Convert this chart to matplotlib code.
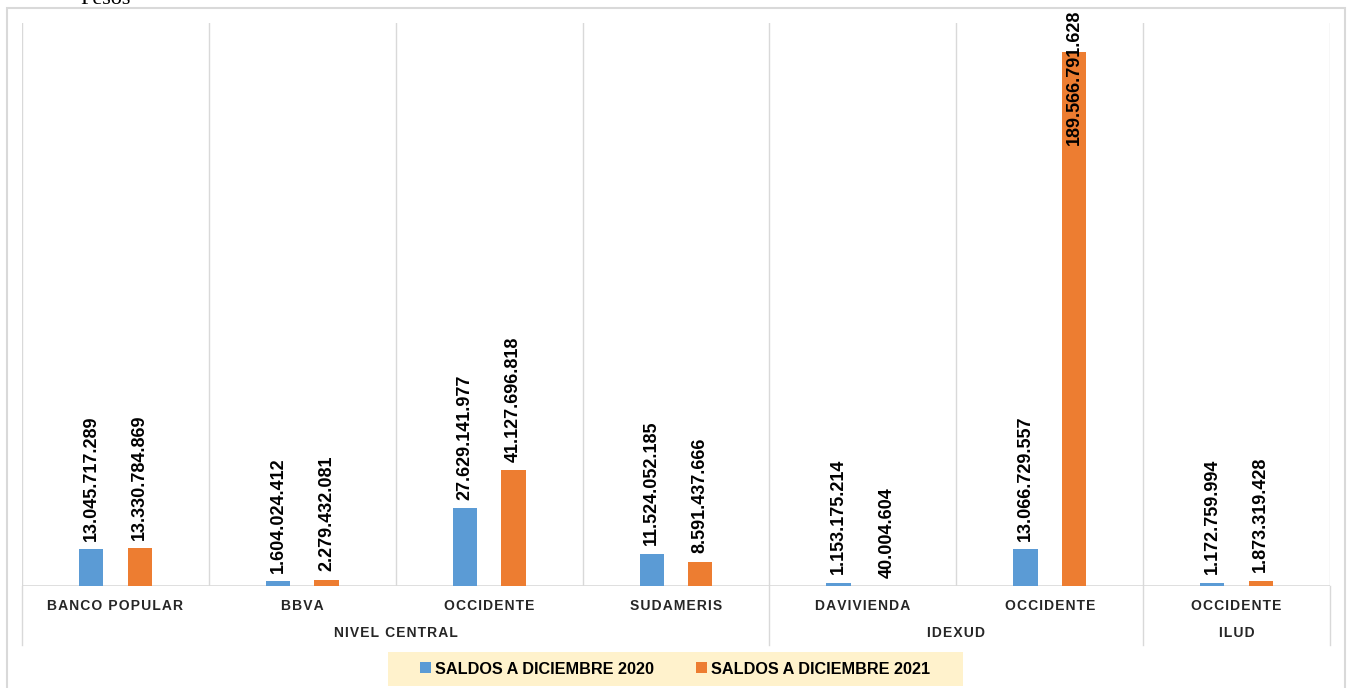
import matplotlib
matplotlib.use("Agg")
import matplotlib.pyplot as plt
import matplotlib.transforms as mtransforms
from matplotlib.patches import Rectangle, Patch

# ---- data ----
categories = ["BANCO POPULAR", "BBVA", "OCCIDENTE", "SUDAMERIS", "DAVIVIENDA", "OCCIDENTE", "OCCIDENTE"]
groups = ["NIVEL CENTRAL", "IDEXUD", "ILUD"]
group_sizes = [4, 2, 1]
saldos_2020 = [13045717289, 1604024412, 27629141977, 11524052185, 1153175214, 13066729557, 1172759994]
saldos_2021 = [13330784869, 2279432081, 41127696818, 8591437666, 40004604, 189566791628, 1873319428]
series_names = ["SALDOS A DICIEMBRE 2020", "SALDOS A DICIEMBRE 2021"]

BLUE = "#5b9bd5"
ORANGE = "#ed7d31"
GRID = "#d9d9d9"
FONT = "Liberation Sans"
FAM = [FONT, "DejaVu Sans"]

def spaced(s):
    return "\u200a".join(s)

W, H, DPI = 1350, 688, 100
fig = plt.figure(figsize=(W / DPI, H / DPI), dpi=DPI)
ax = fig.add_axes([22 / W, 1 - 586 / H, (1330 - 22) / W, (586 - 23) / H])

n = len(categories)
xs = list(range(n))
bw = 0.13
ax.bar([x - bw for x in xs], saldos_2020, width=bw, color=BLUE, zorder=3)
ax.bar([x + bw for x in xs], saldos_2021, width=bw, color=ORANGE, zorder=3)

ax.set_xlim(-0.5, n - 0.5)
ax.set_ylim(0, 200e9)
for s in ax.spines.values():
    s.set_visible(False)
ax.set_xticks([])
ax.set_yticks([])

# gridlines between categories
for i in range(n + 1):
    ax.axvline(i - 0.5, color=GRID, lw=1, zorder=1)
ax.axhline(0, color=GRID, lw=1.2, zorder=2)

trans = mtransforms.blended_transform_factory(ax.transData, ax.transAxes)

# group separators extending below axis
bounds = [-0.5]
for g in group_sizes:
    bounds.append(bounds[-1] + g)
for b in bounds:
    ax.plot([b, b], [-0.105, 0], transform=trans, color=GRID, lw=1, clip_on=False)

# category labels
for x, c in zip(xs, categories):
    ax.text(x, -0.036, spaced(c), transform=trans, ha="center", va="center",
            fontsize=10, fontweight="bold", family=FAM, color="#262626")
# group labels
for i, g in enumerate(groups):
    center = (bounds[i] + bounds[i + 1]) / 2
    ax.text(center, -0.084, spaced(g), transform=trans, ha="center", va="center",
            fontsize=10, fontweight="bold", family=FAM, color="#262626")

def fmt(v):
    return f"{v:,}".replace(",", ".")

texts = []
for x, v in zip(xs, saldos_2020):
    texts.append(ax.annotate(fmt(v), xy=(x - bw, v), xytext=(0, 6), textcoords="offset points",
                             rotation=90, ha="center", va="bottom", fontsize=13,
                             fontweight="bold", family=FONT, annotation_clip=False, zorder=5))
for x, v in zip(xs, saldos_2021):
    texts.append(ax.annotate(fmt(v), xy=(x + bw, v), xytext=(0, 6), textcoords="offset points",
                             rotation=90, ha="center", va="bottom", fontsize=13,
                             fontweight="bold", family=FONT, annotation_clip=False, zorder=5))

# legend background
fig.patches.append(Rectangle((388 / W, 1 - 686 / H), (963 - 388) / W, (686 - 652) / H,
                             transform=fig.transFigure, facecolor="#fff2cc", edgecolor="none", zorder=0))
handles = [Patch(facecolor=BLUE), Patch(facecolor=ORANGE)]
leg = fig.legend(handles, series_names, loc="center", bbox_to_anchor=(0.5, 1 - 669 / H), ncol=2,
                 frameon=False, handlelength=0.65, handleheight=0.65, handletextpad=0.25,
                 columnspacing=2.6, prop={"family": FONT, "weight": "bold", "size": 11.7})

# outer frame
fig.patches.append(Rectangle((7 / W, -0.02), (1345 - 7) / W, 1.02 - 8 / H,
                             transform=fig.transFigure, facecolor="none", edgecolor=GRID, lw=1.5))

# clipped title remnant (cut off at the top edge as in the reference)
fig.text(80 / W, 1 - 4 / H, "Pesos", ha="left", va="baseline", fontsize=16,
         family="Liberation Serif")

# keep data labels inside the figure
fig.canvas.draw()
renderer = fig.canvas.get_renderer()
for t in texts:
    bb = t.get_window_extent(renderer)
    limit = H - 10
    if bb.y1 > limit:
        shift_pts = (bb.y1 - limit) * 72 / DPI
        t.xyann = (0, 6 - shift_pts)

fig.savefig("out.png", dpi=DPI)
